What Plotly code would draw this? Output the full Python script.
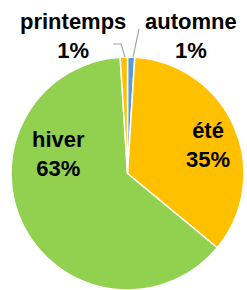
import plotly.graph_objects as go

labels = ["automne", "été", "hiver", "printemps"]
values = [1, 35, 63, 1]
colors = ["#5B9BD5", "#FFC000", "#92D050", "#FFC000"]

W, H = 247, 290
total = sum(values)
pcts = [round(v * 100 / total) for v in values]

fig = go.Figure(go.Pie(
    labels=labels,
    values=values,
    sort=False,
    direction="clockwise",
    rotation=0,
    textinfo="none",
    hoverinfo="label+percent",
    marker=dict(colors=colors, line=dict(color="white", width=1.5)),
    domain=dict(x=[11 / W, 244 / W], y=[0, 1 - 57 / H]),
    showlegend=False,
))

# label positions in pixels (x center, y center)
label_pos = {"automne": (191, 36), "été": (208, 145), "hiver": (58, 154), "printemps": (73, 36)}
for lab, p in zip(labels, pcts):
    x, y = label_pos[lab]
    fig.add_annotation(
        x=x / W, y=1 - y / H, xref="paper", yref="paper",
        text=f"{lab}<br>{p}%", showarrow=False,
        xanchor="center", yanchor="middle",
        font=dict(family="Liberation Sans, Arial", size=22, color="#000000", weight="bold"),
    )

def px(x, y):
    return f"{x / W:.4f},{1 - y / H:.4f}"

# leader lines for the small slices
fig.add_shape(type="path", xref="paper", yref="paper",
              path=f"M {px(113, 44)} L {px(121, 44)} L {px(125, 57)}",
              line=dict(color="#A6A6A6", width=1.2))
fig.add_shape(type="path", xref="paper", yref="paper",
              path=f"M {px(139, 29)} L {px(133, 57)}",
              line=dict(color="#A6A6A6", width=1.2))

fig.update_layout(
    width=W, height=H,
    margin=dict(l=0, r=0, t=0, b=0),
    paper_bgcolor="white", plot_bgcolor="white",
)

fig.write_html("out.html", config={"displayModeBar": False},
               post_script="document.body.style.margin='0';document.body.style.overflow='hidden';")
